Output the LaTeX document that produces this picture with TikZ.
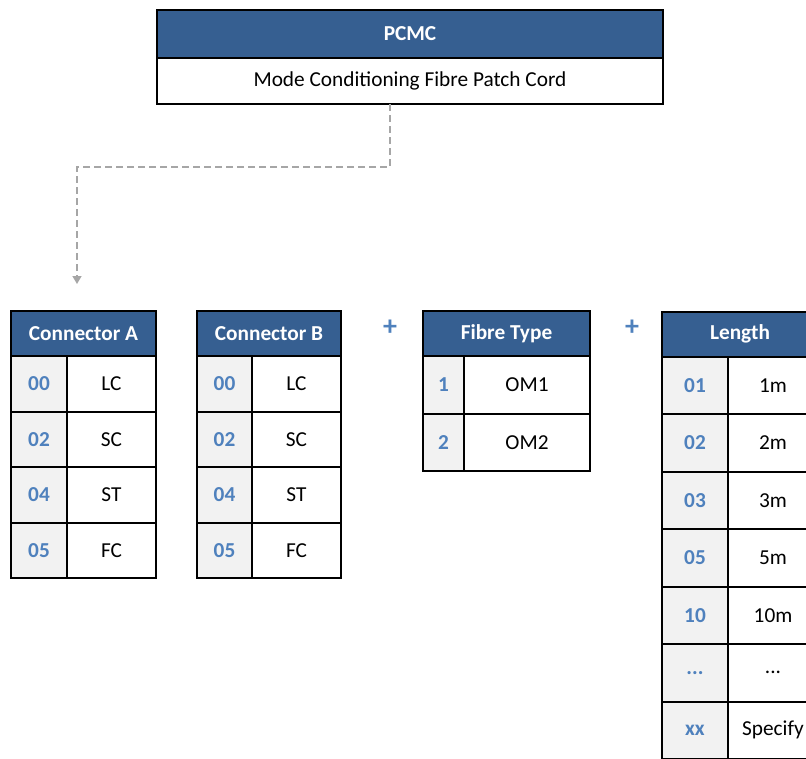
\documentclass[tikz,border=0pt]{standalone}
\usepackage{fontspec}
\setmainfont{Carlito}
\usetikzlibrary{positioning,arrows.meta}

\definecolor{hdrblue}{HTML}{365F91}
\definecolor{codeblue}{HTML}{4F81BD}
\definecolor{codegray}{HTML}{F2F2F2}
\definecolor{linegray}{HTML}{A6A6A6}

\tikzset{
  cell/.style={draw=black,line width=2pt,inner sep=0pt,outer sep=0pt,
    font=\fontsize{21.3}{25}\selectfont},
  hdr/.style={cell,fill=hdrblue,text=white,minimum height=45pt,
    font=\fontsize{21.3}{25}\selectfont\bfseries},
  code/.style={cell,fill=codegray,text=codeblue,
    font=\fontsize{21.3}{25}\selectfont\bfseries},
  val/.style={cell,fill=white},
  plus/.style={text=codeblue,font=\fontsize{28}{32}\selectfont\bfseries},
  flow/.style={draw=linegray,line width=1.5pt,dash pattern=on 7pt off 4pt,
    -{Triangle[width=9pt,length=8pt]}}
}

\begin{document}
\begin{tikzpicture}[x=1pt,y=-1pt,node distance=0pt]
\useasboundingbox (0,0) rectangle (806,758);
\clip (0,0) rectangle (806,758);

% product code
\node[hdr,minimum width=506pt,minimum height=48pt] (pcmc) at (410,34) {PCMC};
\node[val,minimum width=506pt,minimum height=46pt] (desc) [below=of pcmc] {Mode Conditioning Fibre Patch Cord};

% connector A
\node[hdr,minimum width=145pt] (ca) at (83.5,333.5) {Connector A};
\begin{scope}[every node/.append style={minimum height=55.5pt}]
\node[code,minimum width=56pt] (a00) [below right=0pt and 0pt of ca.south west] {00};
\node[val,minimum width=89pt]  (alc) [right=of a00] {LC};
\node[code,minimum width=56pt] (a02) [below=of a00] {02};
\node[val,minimum width=89pt]  (asc) [right=of a02] {SC};
\node[code,minimum width=56pt] (a04) [below=of a02] {04};
\node[val,minimum width=89pt]  (ast) [right=of a04] {ST};
\node[code,minimum width=56pt] (a05) [below=of a04] {05};
\node[val,minimum width=89pt]  (afc) [right=of a05] {FC};
\end{scope}

% connector B
\node[hdr,minimum width=144pt] (cb) at (269,333.5) {Connector B};
\begin{scope}[every node/.append style={minimum height=55.5pt}]
\node[code,minimum width=55pt] (b00) [below right=0pt and 0pt of cb.south west] {00};
\node[val,minimum width=89pt]  (blc) [right=of b00] {LC};
\node[code,minimum width=55pt] (b02) [below=of b00] {02};
\node[val,minimum width=89pt]  (bsc) [right=of b02] {SC};
\node[code,minimum width=55pt] (b04) [below=of b02] {04};
\node[val,minimum width=89pt]  (bst) [right=of b04] {ST};
\node[code,minimum width=55pt] (b05) [below=of b04] {05};
\node[val,minimum width=89pt]  (bfc) [right=of b05] {FC};
\end{scope}

\node[plus] (plus1) at (390,328) {+};

% fibre type
\node[hdr,minimum width=167pt] (ft) at (506.5,333.5) {Fibre Type};
\begin{scope}[every node/.append style={minimum height=57.5pt}]
\node[code,minimum width=41pt]  (f1)  [below right=0pt and 0pt of ft.south west] {1};
\node[val,minimum width=126pt]  (om1) [right=of f1] {OM1};
\node[code,minimum width=41pt]  (f2)  [below=of f1] {2};
\node[val,minimum width=126pt]  (om2) [right=of f2] {OM2};
\end{scope}

\node[plus] (plus2) at (632,328) {+};

% length
\node[hdr,minimum width=156pt] (len) at (740,334) {Length};
\begin{scope}[every node/.append style={minimum height=57.5pt}]
\node[code,minimum width=66pt] (l01) [below right=0pt and 0pt of len.south west] {01};
\node[val,minimum width=90pt]  (m1)  [right=of l01] {1m};
\node[code,minimum width=66pt] (l02) [below=of l01] {02};
\node[val,minimum width=90pt]  (m2)  [right=of l02] {2m};
\node[code,minimum width=66pt] (l03) [below=of l02] {03};
\node[val,minimum width=90pt]  (m3)  [right=of l03] {3m};
\node[code,minimum width=66pt] (l05) [below=of l03] {05};
\node[val,minimum width=90pt]  (m5)  [right=of l05] {5m};
\node[code,minimum width=66pt] (l10) [below=of l05] {10};
\node[val,minimum width=90pt]  (m10) [right=of l10] {10m};
\node[code,minimum width=66pt] (ldd) [below=of l10] {...};
\node[val,minimum width=90pt]  (mdd) [right=of ldd] {...};
\node[code,minimum width=66pt] (lxx) [below=of ldd] {xx};
\node[val,minimum width=90pt]  (mxx) [right=of lxx] {Specify};
\end{scope}

% dashed link
\coordinate (tip) at (77,284);
\draw[flow] ([xshift=-20pt]desc.south) |- ([yshift=-63pt]desc.south -| tip) -- (tip);
\end{tikzpicture}
\end{document}
